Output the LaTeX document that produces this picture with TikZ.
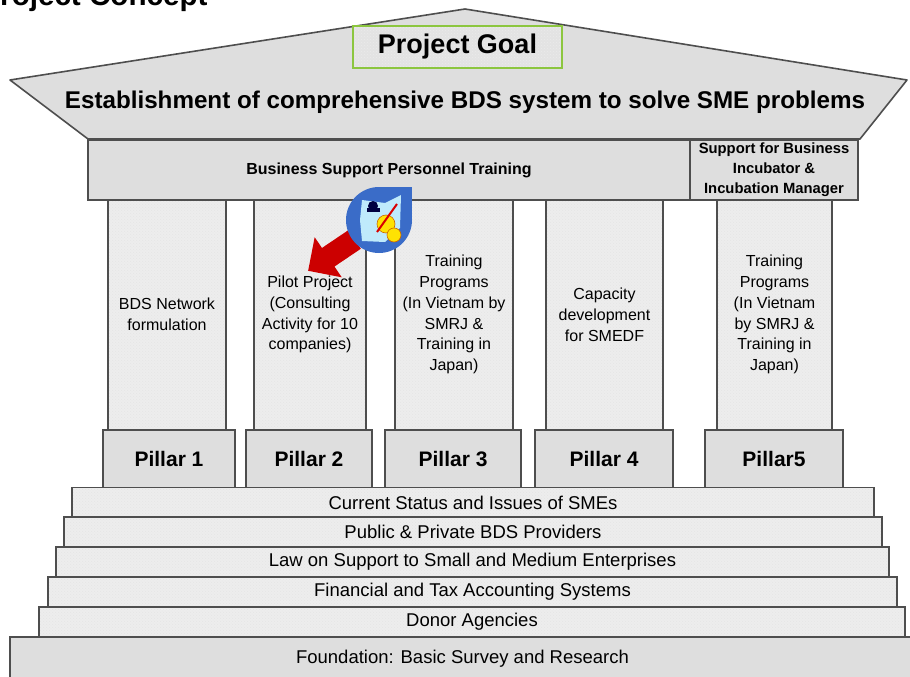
\documentclass[tikz,border=0pt]{standalone}
\usepackage{fontspec}
\setmainfont{Liberation Sans}
\usetikzlibrary{shapes.arrows,patterns}

\definecolor{marble}{HTML}{DEDEDE}
\definecolor{granite}{HTML}{EDEDED}
\definecolor{edge}{HTML}{4E4E4E}
\definecolor{goalgreen}{HTML}{8CC63F}
\definecolor{logoblue}{HTML}{3A6CC8}
\definecolor{arrowred}{HTML}{CC0000}

\tikzset{
  block/.style={draw=edge, line width=1.6pt},
  marblebox/.style={block, fill=marble},
  granitebox/.style={block, preaction={fill=granite}, pattern=crosshatch dots, pattern color=black!10},
  shaft/.style={granitebox, minimum height=231pt, align=center, font=\fontsize{16}{20.8}\selectfont},
  base/.style={marblebox, minimum height=58pt, font=\bfseries\fontsize{21}{25}\selectfont},
  tier/.style={granitebox, minimum height=30pt, inner sep=0pt, font=\fontsize{18.5}{22}\selectfont},
}

\begin{document}
\begin{tikzpicture}[x=1pt,y=-1pt]
\useasboundingbox (0,0) rectangle (910,677);

% heading, cut at the top edge
\node[anchor=base west, inner sep=0pt, font=\bfseries\fontsize{29.6}{32}\selectfont] (heading) at (-19.7,6) {Project Concept};

% roof
\draw[marblebox, line join=round] (10,80) -- (465,9) -- (907,80) -- (860,139) -- (88,139) -- cycle;
\node[anchor=base, font=\bfseries\fontsize{24.2}{28}\selectfont] (goaltext) at (465,108)
  {Establishment of comprehensive BDS system to solve SME problems};
\node[draw=goalgreen, line width=1.5pt, preaction={fill=black!11}, pattern=crosshatch dots, pattern color=black!8,
      minimum width=209pt, minimum height=42pt, font=\bfseries\fontsize{27}{30}\selectfont] (goal) at (457.5,47) {Project Goal};

% shafts
\node[shaft, minimum width=118pt] (shaft1) at (167,314.5) {BDS Network\\formulation};
\node[shaft, minimum width=112pt] (shaft2) at (310,314.5) {Pilot Project\\(Consulting\\Activity for 10\\companies)};
\node[shaft, minimum width=118pt] (shaft3) at (454,314.5) {Training\\Programs\\(In Vietnam by\\SMRJ \&\\Training in\\Japan)};
\node[shaft, minimum width=117pt] (shaft4) at (604.5,314.5) {Capacity\\development\\for SMEDF};
\node[shaft, minimum width=115pt] (shaft5) at (774.5,314.5) {Training\\Programs\\(In Vietnam\\by SMRJ \&\\Training in\\Japan)};

% architrave
\node[marblebox, minimum width=602pt, minimum height=60pt, font=\bfseries\fontsize{16}{19}\selectfont] (training) at (389,170)
  {Business Support Personnel Training};
\node[marblebox, minimum width=168pt, minimum height=60pt, inner sep=1pt, align=center,
      font=\bfseries\fontsize{14.8}{20}\selectfont] (incubator) at (774,170) {Support for Business\\Incubator \&\\Incubation Manager};

% pillar bases
\node[base, minimum width=132pt] (base1) at (169,459) {Pillar 1};
\node[base, minimum width=126pt] (base2) at (309,459) {Pillar 2};
\node[base, minimum width=136pt] (base3) at (453,459) {Pillar 3};
\node[base, minimum width=138pt] (base4) at (604,459) {Pillar 4};
\node[base, minimum width=138pt] (base5) at (774,459) {Pillar5};

% steps
\node[tier, minimum width=802pt] (tier1) at (473,502.5) {Current Status and Issues of SMEs};
\node[tier, minimum width=818pt] (tier2) at (473,532) {Public \& Private BDS Providers};
\node[tier, minimum width=833pt] (tier3) at (472.5,562) {Law on Support to Small and Medium Enterprises};
\node[tier, minimum width=849pt] (tier4) at (472.5,592) {Financial and Tax Accounting Systems};
\node[tier, minimum width=866pt] (tier5) at (472,622) {Donor Agencies};
\node[marblebox, minimum width=905pt, minimum height=44pt, font=\fontsize{18.5}{22}\selectfont] (foundation) at (462.5,659)
  {Foundation: Basic Survey and Research};

% pointer with logo on top
\node[single arrow, fill=arrowred, minimum height=56pt, inner sep=11pt, single arrow head extend=13pt,
      rotate=214] (pointer) at (336,252) {};
\node[circle, fill=logoblue, minimum size=66pt, inner sep=0pt] (logo) at (379,220) {};
\fill[logoblue] (logo.center) rectangle (logo.north -| logo.east);
\begin{scope}[shift={(379,220)}]
  \fill[cyan!25] (-17,-20) -- (6,-17) -- (22,-25) -- (21,8) -- (6,22) -- (-17,21) -- (-19,0) -- cycle;
  \fill[black!75!blue] (-12,-8) rectangle (1,-12);
  \fill[black!75!blue] (-6,-14) circle (5pt);
  \fill[yellow!85!orange, draw=orange!80!black, line width=0.6pt] (7,4) circle (9pt);
  \fill[yellow!85!orange, draw=orange!80!black, line width=0.6pt] (15,15) circle (7pt);
  \draw[red!85!black, line width=2pt] (-2,12) -- (18,-16);
\end{scope}
\end{tikzpicture}
\end{document}
